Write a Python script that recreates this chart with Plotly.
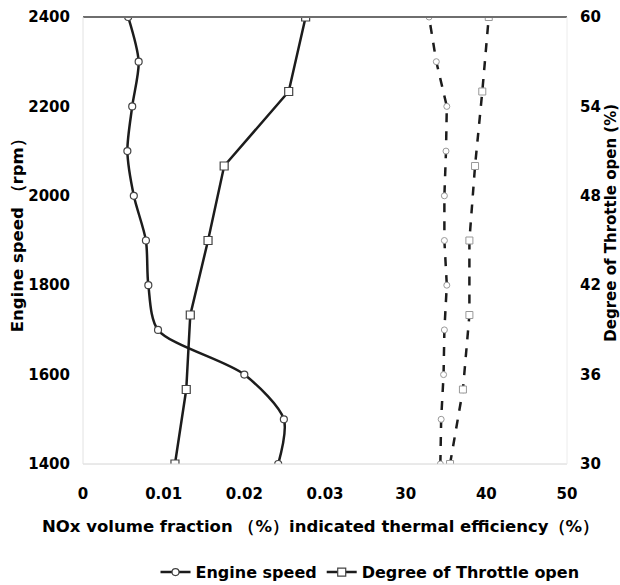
import plotly.graph_objects as go

# Engine speed sweep (left axis, rpm)
engine_speed = [1400, 1500, 1600, 1700, 1800, 1900, 2000, 2100, 2200, 2300, 2400]
nox_vs_speed = [0.0242, 0.0249, 0.0200, 0.0093, 0.0081, 0.0078, 0.0063, 0.0055, 0.0061, 0.0069, 0.0056]
eff_vs_speed = [34.3, 34.4, 34.7, 34.8, 35.1, 34.8, 34.8, 35.0, 35.1, 33.8, 32.9]

# Throttle opening sweep (right axis, %)
throttle_open = [30, 35, 40, 45, 50, 55, 60]
nox_vs_throttle = [0.0114, 0.0128, 0.0133, 0.0155, 0.0175, 0.0255, 0.0276]
eff_vs_throttle = [35.5, 37.1, 37.9, 37.9, 38.6, 39.5, 40.3]

nox_ticks = [0, 0.01, 0.02, 0.03]
eff_ticks = [30, 40, 50]
rpm_ticks = [1400, 1600, 1800, 2000, 2200, 2400]
throttle_ticks = [30, 36, 42, 48, 54, 60]

FONT = "DejaVu Sans"
INK = "#1c1c1c"

fig = go.Figure()

# NOx volume fraction, solid lines
fig.add_trace(go.Scatter(
    x=nox_vs_speed, y=engine_speed, xaxis="x", yaxis="y",
    name="Engine speed", mode="lines+markers",
    line=dict(color=INK, width=2.5, shape="spline", smoothing=0.8),
    marker=dict(symbol="circle", size=7, color="white", line=dict(color="#444", width=1.2)),
))
fig.add_trace(go.Scatter(
    x=nox_vs_throttle, y=throttle_open, xaxis="x", yaxis="y2",
    name="Degree of Throttle open", mode="lines+markers",
    line=dict(color=INK, width=2.5),
    marker=dict(symbol="square", size=8, color="white", line=dict(color="#444", width=1.2)),
))

# Indicated thermal efficiency, dashed lines
fig.add_trace(go.Scatter(
    x=eff_vs_speed, y=engine_speed, xaxis="x2", yaxis="y",
    mode="lines+markers", showlegend=False,
    line=dict(color=INK, width=2.5, dash="dash"),
    marker=dict(symbol="circle", size=6, color="white", line=dict(color="#999", width=1)),
))
fig.add_trace(go.Scatter(
    x=eff_vs_throttle, y=throttle_open, xaxis="x2", yaxis="y2",
    mode="lines+markers", showlegend=False,
    line=dict(color=INK, width=2.5, dash="dash"),
    marker=dict(symbol="square", size=7, color="white", line=dict(color="#999", width=1)),
))

tick_font = dict(family=FONT, size=15, color="black", weight="bold")
title_font = dict(family=FONT, size=16.5, color="black", weight="bold")
common = dict(showgrid=False, zeroline=False, showline=False,
              ticks="outside", tickcolor="rgba(0,0,0,0)", tickfont=tick_font)

fig.update_layout(
    width=620, height=585,
    margin=dict(l=83, r=53, t=17, b=121, autoexpand=False),
    paper_bgcolor="white", plot_bgcolor="white",
    font=dict(family=FONT, color="black"),
    xaxis=dict(domain=[0, 0.5], range=[0, 0.03], tickvals=nox_ticks,
               ticktext=["0", "0.01", "0.02", "0.03"], anchor="y",
               ticklen=16, **common),
    xaxis2=dict(domain=[2 / 3, 1], range=[30, 50], tickvals=eff_ticks, anchor="y",
                ticklen=16, **common),
    yaxis=dict(range=[1400, 2400], tickvals=rpm_ticks, anchor="x",
               ticklen=9, **common),
    yaxis2=dict(range=[30, 60], tickvals=throttle_ticks, overlaying="y",
                side="right", anchor="free", position=1, ticklen=9, **common),
    legend=dict(orientation="h", x=0.593, xanchor="center", y=-0.242, yanchor="middle",
                font=dict(family=FONT, size=16, color="black", weight="bold"),
                itemwidth=30, tracegroupgap=0, bgcolor="rgba(0,0,0,0)"),
    shapes=[
        dict(type="line", xref="paper", yref="paper", x0=0, x1=1, y0=1, y1=1,
             line=dict(color="#6e6e6e", width=2)),
        dict(type="line", xref="paper", yref="paper", x0=0, x1=1, y0=0, y1=0,
             line=dict(color="#d4d4d4", width=1)),
        dict(type="line", xref="paper", yref="paper", x0=0, x1=0, y0=0, y1=1,
             line=dict(color="#e2e2e2", width=1)),
        dict(type="line", xref="paper", yref="paper", x0=1, x1=1, y0=0, y1=1,
             line=dict(color="#ececec", width=1)),
    ],
    annotations=[
        dict(text="NOx volume fraction （%）indicated thermal efficiency（%）",
             xref="paper", yref="paper", x=0.49, y=-0.139, showarrow=False,
             xanchor="center", yanchor="middle", font=title_font),
        dict(text="Engine speed （rpm）", textangle=-90,
             xref="paper", yref="paper", x=-0.135, y=0.52, showarrow=False,
             xanchor="center", yanchor="middle", font=title_font),
        dict(text="Degree of Throttle open (%)", textangle=-90,
             xref="paper", yref="paper", x=1.091, y=0.54, showarrow=False,
             xanchor="center", yanchor="middle",
             font=dict(family=FONT, size=15, color="black", weight="bold")),
    ],
)

fig.write_html("out.html")
